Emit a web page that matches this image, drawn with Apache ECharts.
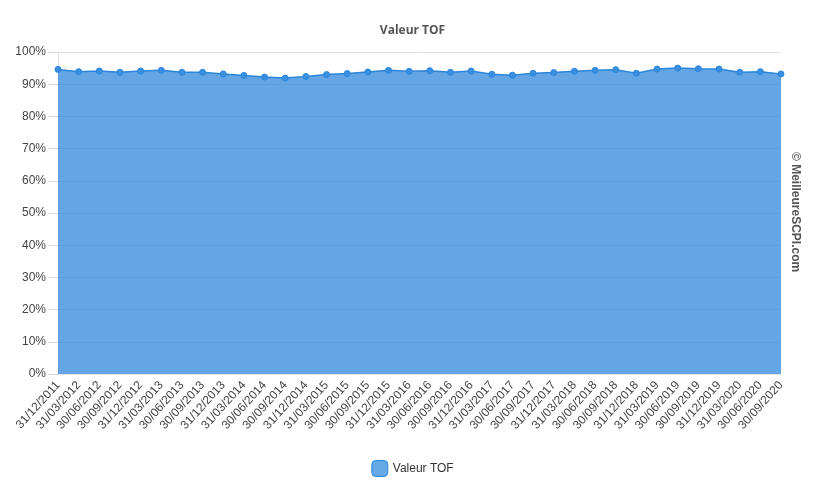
<!DOCTYPE html>
<html><head><meta charset="utf-8">
<script src="https://cdn.jsdelivr.net/npm/echarts@6/dist/echarts.min.js"></script>
<style>html,body{margin:0;padding:0;background:#fff}#c{width:825px;height:491px}</style>
</head><body><div id="c"></div>
<script>
const categories = ["31/12/2011","31/03/2012","30/06/2012","30/09/2012","31/12/2012","31/03/2013","30/06/2013","30/09/2013","31/12/2013","31/03/2014","30/06/2014","30/09/2014","31/12/2014","31/03/2015","30/06/2015","30/09/2015","31/12/2015","31/03/2016","30/06/2016","30/09/2016","31/12/2016","31/03/2017","30/06/2017","30/09/2017","31/12/2017","31/03/2018","30/06/2018","30/09/2018","31/12/2018","31/03/2019","30/06/2019","30/09/2019","31/12/2019","31/03/2020","30/06/2020","30/09/2020"];
const tofValues = [94.6,93.9,94.1,93.7,94.1,94.3,93.7,93.7,93.2,92.7,92.2,91.9,92.4,93.0,93.3,93.8,94.3,94.0,94.2,93.7,94.1,93.1,92.8,93.4,93.6,94.0,94.3,94.5,93.4,94.7,95.0,94.8,94.7,93.7,93.9,93.2];
const seriesName = "Valeur TOF";
const chart = echarts.init(document.getElementById('c'), null, {renderer:'canvas'});
chart.setOption({
  animation:false,
  textStyle:{fontFamily:'"Liberation Sans", Arial, sans-serif'},
  title:{text:'Valeur TOF',left:'center',top:20,textStyle:{fontSize:12,fontWeight:'bold',color:'#555',fontFamily:'"Open Sans", sans-serif'}},
  legend:{bottom:9,left:'center',icon:'roundRect',itemWidth:16,itemHeight:16,itemGap:10,
    textStyle:{fontSize:12,color:'#333'},
    data:[{name:seriesName,itemStyle:{color:'#65aae6',borderColor:'#2a86da',borderWidth:1}}]},
  grid:{left:58,right:44,top:52,bottom:117},
  xAxis:{type:'category',data:categories,boundaryGap:false,
    axisLine:{show:false},axisTick:{show:false},
    splitLine:{show:false},
    axisLabel:{rotate:48,fontSize:12,color:'#444',interval:0,margin:9}},
  yAxis:{type:'value',min:0,max:100,interval:10,
    axisLine:{show:true,lineStyle:{color:'#e0e0e0'}},
    axisTick:{show:true,length:10,lineStyle:{color:'#d8d8d8'}},
    splitLine:{lineStyle:{color:'#e2e2e2'}},
    axisLabel:{formatter:'{value}%',fontSize:12,color:'#444',margin:12}},
  series:[{name:seriesName,type:'line',data:tofValues,
    symbol:'circle',symbolSize:6,showSymbol:true,
    lineStyle:{color:'#2a86da',width:1.5},
    itemStyle:{color:'#3a8fe0',borderColor:'#2a86da',borderWidth:1},
    areaStyle:{color:'rgb(40,130,220)',opacity:0.72},
    z:2}],
  graphic:[{type:'text',left:789,top:152,rotation:-Math.PI/2,
    style:{text:'© MeilleureSCPI.com',font:'bold 12px "Liberation Sans", Arial, sans-serif',fill:'#555'}}]
});
</script></body></html>
